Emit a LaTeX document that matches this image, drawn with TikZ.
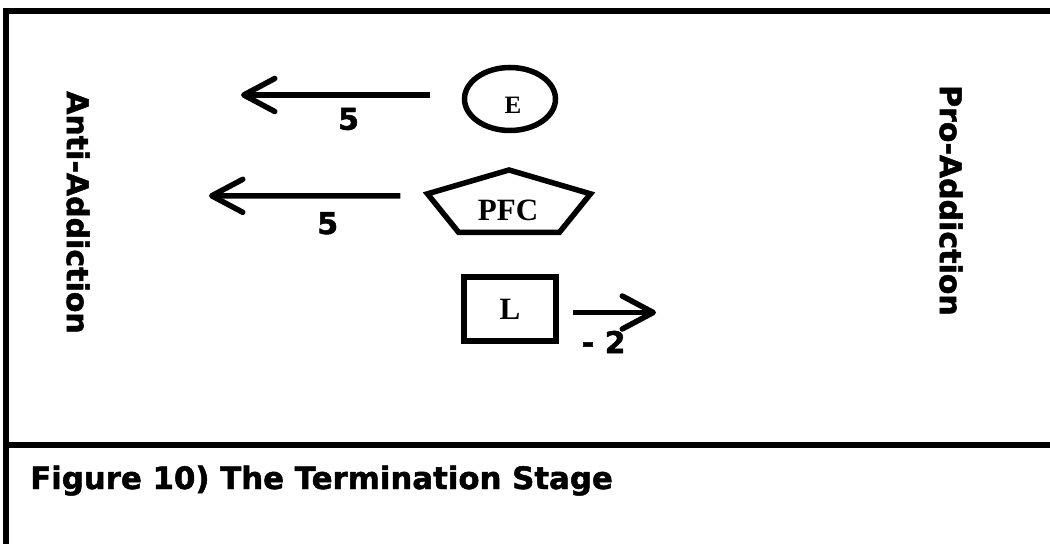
\documentclass[tikz,border=0pt]{standalone}
\usepackage{fontspec}
\setmainfont{Liberation Serif}
\setsansfont{DejaVu Sans}[BoldFeatures={FakeBold=1.6}]
\usepackage{tikz}
\usetikzlibrary{arrows.meta,shapes.geometric,calc}

\begin{document}
\begin{tikzpicture}[x=1pt,y=1pt,
  frame/.style={line width=6pt},
  outline/.style={draw,line width=5.5pt,line join=miter},
  oval/.style={outline,ellipse,inner sep=0pt,minimum width=91pt,minimum height=63pt},
  sq/.style={outline,line width=6pt,rectangle,inner sep=0pt,minimum width=92pt,minimum height=64pt,font=\fontsize{31}{36}\selectfont\bfseries},
  serif/.style={inner sep=0pt,font=\fontsize{#1}{36}\selectfont\bfseries},
  heavy/.style={inner sep=0pt,font=\fontsize{30}{36}\selectfont\sffamily\bfseries},
  arr/.style={line width=5.5pt,-{Straight Barb[length=31pt,width=33pt,round]}}]
\useasboundingbox (0,0) rectangle (1050,544);
\draw[frame] (1050,532.7) -| (5.5,0);
\draw[frame] (5.5,99) -- (1050,99);
\node[heavy,rotate=-90] (anti) at (78,331.5) {Anti-Addiction};
\node[heavy,rotate=-90] (pro) at (951,343.6) {Pro-Addiction};
\node[heavy,font=\fontsize{30.8}{36}\selectfont\sffamily\bfseries,anchor=base west] (caption) at (30,55) {Figure 10) The Termination Stage};
\node[oval] (e) at (510,445) {};
\node[serif=25] (elbl) at ([xshift=3pt,yshift=-6.5pt]e.center) {E};
\coordinate (pfcmid) at (509,339.5);
\draw[outline] ($(pfcmid)+(90:85.7 and 34.5)$) -- ($(pfcmid)+(18:85.7 and 34.5)$) -- ($(pfcmid)+(-54:85.7 and 34.5)$) -- ($(pfcmid)+(-126:85.7 and 34.5)$) -- ($(pfcmid)+(162:85.7 and 34.5)$) -- cycle;
\coordinate (pfcl) at ($(pfcmid)+(162:85.7 and 34.5)$);
\node[serif=31] (pfc) at (508,334) {PFC};
\node[sq] (l) at (510,235) {L};
\coordinate (etip) at (241,449);
\coordinate (ptip) at (209,348.2);
\coordinate (ltip) at (656,231.5);
\draw[arr] ([xshift=-32pt,yshift=4pt]e.west) -- (etip) node[heavy,pos=0.43,yshift=-24pt] (w1) {5};
\draw[arr] ([xshift=-27pt,yshift=-2pt]pfcl) -- (ptip) node[heavy,pos=0.38,yshift=-27.5pt] (w2) {5};
\draw[arr] ([xshift=14pt,yshift=-3.5pt]l.east) -- (ltip) node[heavy,pos=0.37,yshift=-29.5pt] (w3) {- 2};
\end{tikzpicture}
\end{document}
